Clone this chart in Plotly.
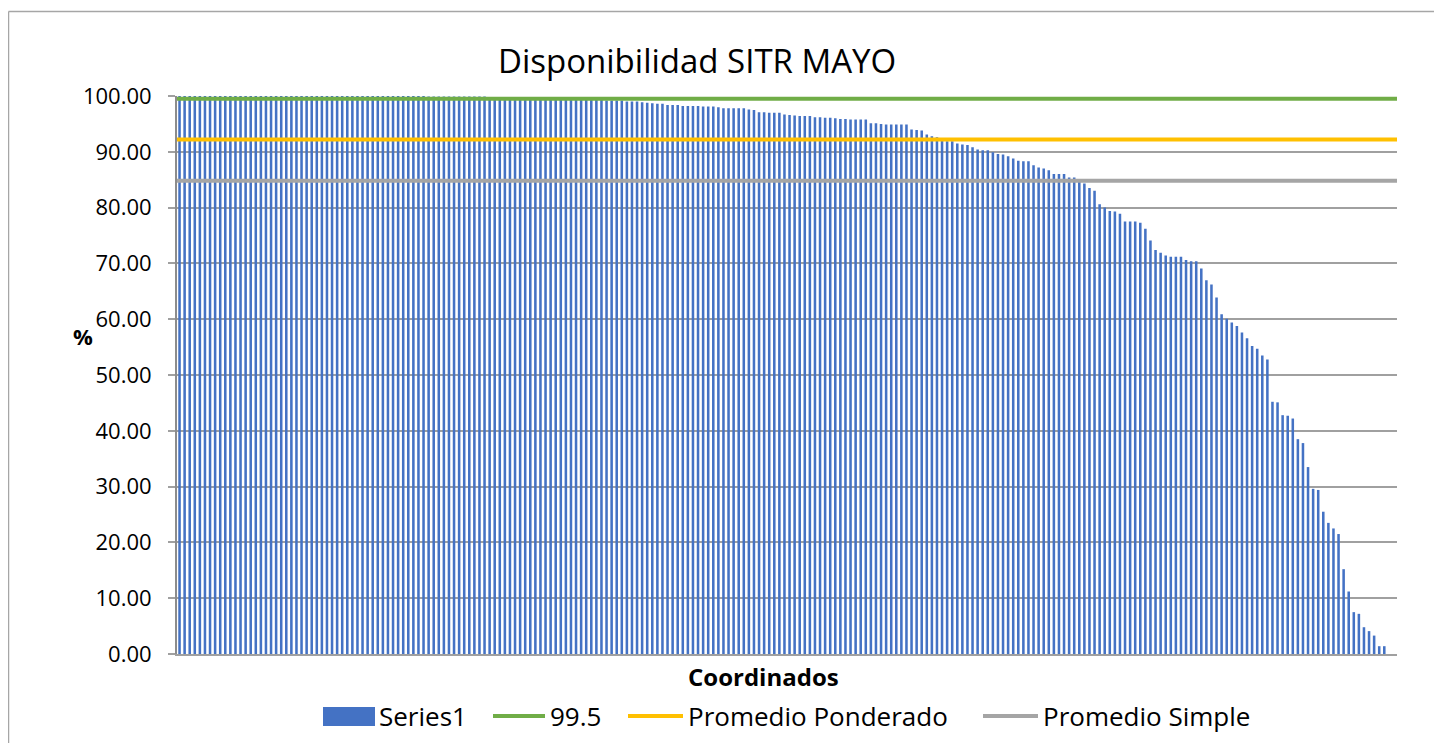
import plotly.graph_objects as go

# ---- data ----
title_text = "Disponibilidad SITR MAYO"
x_title = "Coordinados"
y_title = "%"
series_name = "Series1"
target_name = "99.5"
pond_name = "Promedio Ponderado"
simple_name = "Promedio Simple"

target_value = 99.5
pond_value = 92.2
simple_value = 84.8

disponibilidad = (
    [100.0] * 49
    + [99.9] * 12 + [99.8] * 10 + [99.7] * 6 + [99.6] * 4 + [99.5] * 2
    + [99.3, 99.2, 99.2, 99.2, 99.2, 99.0, 99.0, 99.0, 98.9, 98.8,
       98.7, 98.6, 98.6, 98.4, 98.4, 98.4, 98.2, 98.2, 98.2, 98.2,
       98.1, 98.1, 98.1, 98.0, 97.8, 97.8, 97.8, 97.8, 97.8, 97.6,
       97.5, 97.1, 97.1, 97.0, 97.0, 97.0, 96.7, 96.6, 96.5, 96.4,
       96.4, 96.4, 96.2, 96.2, 96.1, 96.1, 96.0, 95.9, 95.9, 95.8,
       95.8, 95.8, 95.8, 95.1, 95.1, 95.0, 94.9, 94.9, 94.9, 94.9,
       94.9, 94.0, 93.9, 93.8, 93.1, 92.8, 92.6, 92.2, 91.9]
    + [91.9, 91.5, 91.3, 91.2, 90.8, 90.4, 90.3, 90.3, 89.9, 89.6,
       89.5, 89.2, 88.8, 88.4, 88.3, 88.3, 87.6, 87.2, 87.0, 86.7,
       86.0, 86.0, 86.0, 85.4, 85.4, 84.9, 84.3, 83.5, 83.0, 80.6,
       80.0, 79.4, 79.3, 78.9, 77.5, 77.5, 77.5, 77.3, 76.2, 74.1,
       72.4, 71.9, 71.4, 71.2, 71.2, 71.2, 70.6, 70.4, 70.4, 69.1,
       67.0, 66.2, 63.9, 60.9, 60.1, 59.4, 58.8, 57.6, 56.6, 55.2,
       54.7, 53.5, 52.8, 45.2, 45.1, 42.8, 42.7, 42.2, 38.5, 37.8,
       33.5, 29.6, 29.4, 25.5, 23.5, 22.5, 21.5, 15.2, 11.2, 7.5,
       7.2, 4.8, 4.1, 3.3, 1.4, 1.4, 0.0, 0.0]
)
y_ticks = [0, 10, 20, 30, 40, 50, 60, 70, 80, 90, 100]

# ---- layout geometry (screen pixels; page body adds an 8px margin) ----
OFF = 8
W, H = 1442 - 2 * OFF, 743 - OFF
L, R, T, B = 177, 1397, 96, 654   # plot area in screen pixels
PW, PH = R - L, B - T


def px(xp):
    return (xp - L) / PW


def py(yp):
    return (B - yp) / PH


n = len(disponibilidad)
cats = list(range(n))
line_x = [cats[0] - 0.5, cats[-1] + 0.5]

FONT = "Open Sans"
BLUE, GREEN, YELLOW, GRAY = "#4472C4", "#70AD47", "#FFC000", "#A5A5A5"

fig = go.Figure()
fig.add_trace(go.Bar(x=cats, y=disponibilidad, name=series_name,
                     marker=dict(color=BLUE, line=dict(width=0)),
                     showlegend=False))
for name, val, col in [(target_name, target_value, GREEN),
                       (pond_name, pond_value, YELLOW),
                       (simple_name, simple_value, GRAY)]:
    fig.add_trace(go.Scatter(x=line_x, y=[val, val], mode="lines", name=name,
                             line=dict(color=col, width=4),
                             showlegend=False, cliponaxis=False))

shapes = [
    # chart border (top and left edges visible)
    dict(type="line", xref="paper", yref="paper",
         x0=px(8.5), x1=px(1442), y0=py(11.5), y1=py(11.5),
         line=dict(color="#A6A6A6", width=1.5), layer="below"),
    dict(type="line", xref="paper", yref="paper",
         x0=px(8.5), x1=px(8.5), y0=py(11.5), y1=py(745),
         line=dict(color="#A6A6A6", width=1.5), layer="below"),
    # legend symbols
    dict(type="rect", xref="paper", yref="paper",
         x0=px(323), x1=px(375), y0=py(726), y1=py(707),
         line=dict(width=0), fillcolor=BLUE),
    dict(type="line", xref="paper", yref="paper",
         x0=px(493), x1=px(545), y0=py(716), y1=py(716),
         line=dict(color=GREEN, width=4)),
    dict(type="line", xref="paper", yref="paper",
         x0=px(628), x1=px(683), y0=py(716), y1=py(716),
         line=dict(color=YELLOW, width=4)),
    dict(type="line", xref="paper", yref="paper",
         x0=px(983), x1=px(1038), y0=py(716), y1=py(716),
         line=dict(color=GRAY, width=4)),
]

annotations = [
    dict(text=title_text, x=px(697), y=py(60), xref="paper", yref="paper",
         xanchor="center", yanchor="middle", showarrow=False,
         font=dict(family=FONT, size=33, color="#000000")),
    dict(text="<b>" + x_title + "</b>", x=px(763), y=py(676), xref="paper",
         yref="paper", xanchor="center", yanchor="middle", showarrow=False,
         font=dict(family=FONT, size=24, color="#000000")),
    dict(text="<b>" + y_title + "</b>", x=px(83), y=py(336), xref="paper",
         yref="paper", xanchor="center", yanchor="middle", showarrow=False,
         font=dict(family=FONT, size=22, color="#000000")),
]
for txt, x0 in [(series_name, 377), (target_name, 548),
                (pond_name, 686), (simple_name, 1041)]:
    annotations.append(dict(text=txt, x=px(x0), y=py(716), xref="paper",
                            yref="paper", xanchor="left", yanchor="middle",
                            showarrow=False,
                            font=dict(family=FONT, size=26, color="#000000")))

fig.update_layout(
    width=W, height=H,
    margin=dict(l=L - OFF, r=(W + OFF) - R, t=T - OFF, b=(H + OFF) - B,
                autoexpand=False),
    paper_bgcolor="white", plot_bgcolor="white",
    bargap=0.5,
    font=dict(family=FONT, color="#000000"),
    shapes=shapes, annotations=annotations,
    xaxis=dict(range=[line_x[0], line_x[1]], showticklabels=False,
               showgrid=False, zeroline=False, showline=True,
               linecolor="#A0A0A0", linewidth=1.5, ticks=""),
    yaxis=dict(range=[0, 100], tickvals=y_ticks, tickformat=".2f",
               showgrid=True, gridcolor="#A0A0A0", gridwidth=1.5,
               zeroline=False, showline=True, linecolor="#8C8C8C",
               linewidth=2, ticks="outside", ticklen=7, tickcolor="#A0A0A0",
               tickwidth=1.5, ticklabelstandoff=12,
               tickfont=dict(family=FONT, size=22, color="#000000")),
)

fig.write_html("out.html")
